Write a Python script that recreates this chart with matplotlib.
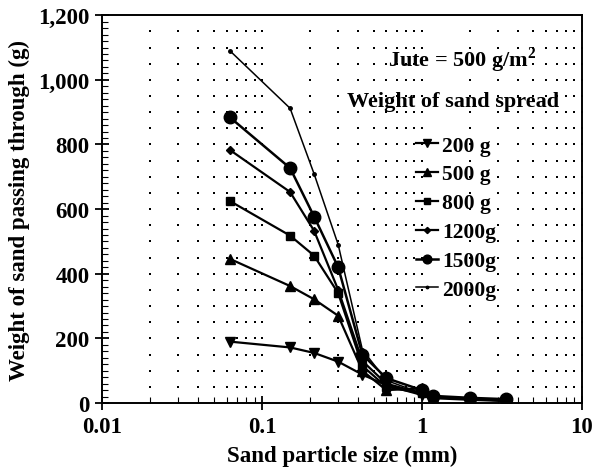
import numpy as np
import matplotlib
matplotlib.use("Agg")
import matplotlib.pyplot as plt
from matplotlib.ticker import FuncFormatter, MultipleLocator

plt.rcParams['font.family'] = ['Liberation Serif', 'DejaVu Serif']
plt.rcParams['mathtext.fontset'] = 'custom'
plt.rcParams['mathtext.rm'] = 'Liberation Serif'
plt.rcParams['mathtext.bf'] = 'Liberation Serif:bold'

# sieve sizes (mm)
sizes = [0.063, 0.15, 0.212, 0.3, 0.425, 0.6, 1.0, 1.18, 2.0, 3.35]

labels = ["200 g", "500 g", "800 g", "1200g", "1500g", "2000g"]
w200 = [190, 172, 155, 128, 88, 55, 25, 15, 10, 6]
w500 = [446, 362, 321, 270, 100, 40, 45, 20, 12, 8]
w800 = [625, 518, 456, 340, 115, 50, 30, 18, 12, 8]
w1200 = [783, 653, 533, 350, 130, 60, 30, 20, 14, 9]
w1500 = [884, 727, 577, 420, 150, 77, 40, 22, 16, 12]
w2000 = [1090, 912, 709, 490, 165, 70, 30, 20, 12, 8]

series = [w200, w500, w800, w1200, w1500, w2000]
markers = ['v', '^', 's', 'D', 'o', 'o']
msizes = [7.5, 7.5, 5.5, 4.5, 9, 2.5]
lws = [1.6, 1.6, 1.6, 1.6, 1.8, 1.1]

fig = plt.figure(figsize=(5.94, 4.77), dpi=100)
ax = fig.add_axes([0.172, 0.153, 0.807, 0.813])

ax.set_xscale('log')
ax.set_xlim(0.01, 10)
ax.set_ylim(0, 1200)

# dotted grid (dots at minor/major x positions and every 50 on y)
gx = [m * 10.0 ** e for e in (-2, -1, 0) for m in range(2, 11)]
gy = np.arange(50, 1200, 50)
GX, GY = np.meshgrid(gx, gy)
ax.scatter(GX.ravel(), GY.ravel(), s=1.6, c='black', marker='s', linewidths=0, zorder=1)

for vals, lab, mk, ms, lw in zip(series, labels, markers, msizes, lws):
    ax.plot(sizes, vals, color='black', marker=mk, markersize=ms, linewidth=lw,
            label=lab, zorder=3)

ax.yaxis.set_major_locator(MultipleLocator(200))
ax.yaxis.set_minor_locator(MultipleLocator(20))
ax.yaxis.set_major_formatter(FuncFormatter(lambda v, p: f"{int(v):,}"))
ax.xaxis.set_major_formatter(FuncFormatter(lambda v, p: {0.01: '0.01', 0.1: '0.1', 1: '1', 10: '10'}.get(round(v, 4), '')))

ax.tick_params(axis='both', which='major', direction='inout', length=10, width=1.3,
               labelsize=16.5, pad=4)
ax.tick_params(axis='both', which='minor', direction='in', length=4, width=0.8)
ax.tick_params(axis='x', which='minor', labelbottom=False)
for lbl in ax.get_xticklabels() + ax.get_yticklabels():
    lbl.set_fontweight('bold')

for s in ax.spines.values():
    s.set_linewidth(1.4)

ax.set_xlabel('Sand particle size (mm)', fontsize=16.5, fontweight='bold', labelpad=6)
ax.set_ylabel('Weight of sand passing through (g)', fontsize=16.5, fontweight='bold', labelpad=6)

ax.text(0.752, 0.887, r'Jute = 500 g/m$^\mathbf{2}$', transform=ax.transAxes,
        ha='center', va='center', fontsize=16, fontweight='bold')
ax.text(0.732, 0.778, 'Weight of sand spread', transform=ax.transAxes,
        ha='center', va='center', fontsize=16, fontweight='bold')

leg = ax.legend(loc='upper left', bbox_to_anchor=(0.655, 0.69), frameon=False,
                handlelength=1.0, handletextpad=0.2, labelspacing=0.41,
                markerscale=0.7, borderpad=0, borderaxespad=0,
                prop={'size': 15.5, 'weight': 'bold'})

fig.savefig('out.png', dpi=100)
